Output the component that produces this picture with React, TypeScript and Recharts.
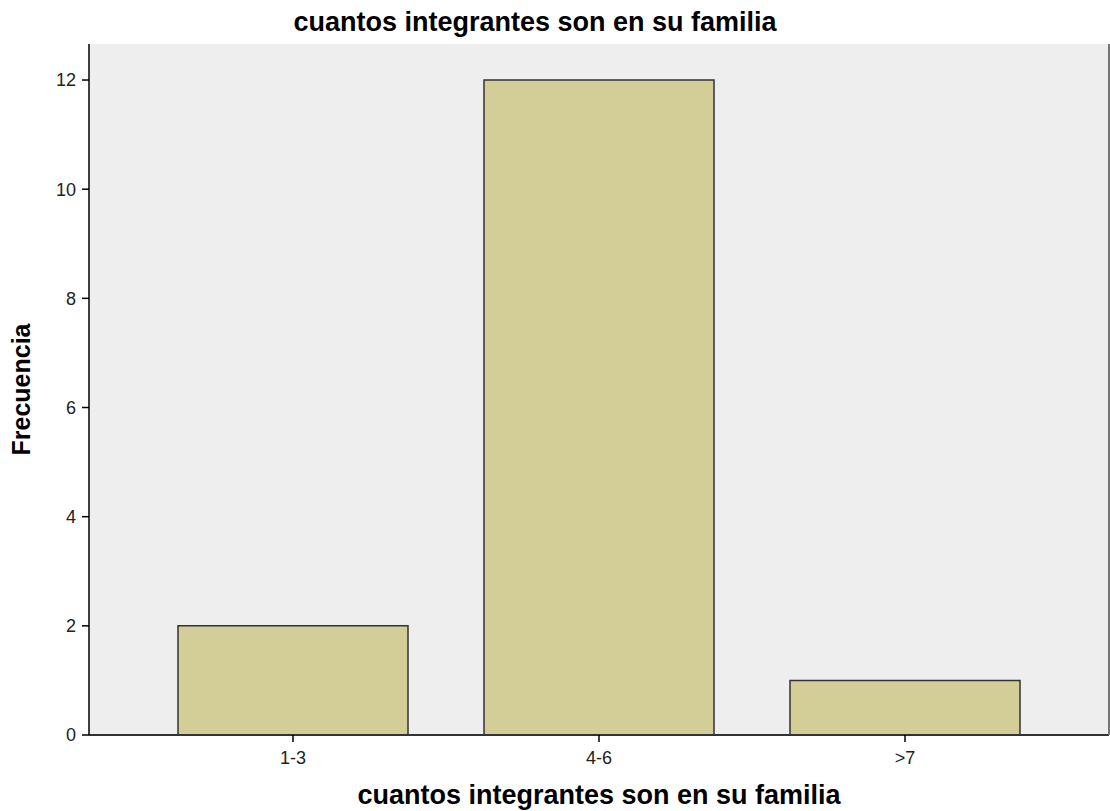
import React from 'react';
import { BarChart, Bar, XAxis, YAxis, CartesianGrid } from 'recharts';

const categories = ['1-3', '4-6', '>7'];
const frequencies = [2, 12, 1];
const yTicks = [0, 2, 4, 6, 8, 10, 12];

const TITLE = 'cuantos integrantes son en su familia';
const FONT = '"Liberation Sans", Arial, sans-serif';

const data = categories.map((cat, i) => ({ cat, freq: frequencies[i] }));

export default function App() {
  return (
    <div
      style={{
        position: 'absolute',
        left: 0,
        top: 0,
        width: 1110,
        height: 811,
        background: '#fff',
        fontFamily: FONT
      }}
    >
      {/* title sits a bit left of the plot centre, as in the original */}
      <div
        style={{
          position: 'absolute',
          left: 0,
          top: 6,
          width: 1070,
          textAlign: 'center',
          fontWeight: 'bold',
          fontSize: 27,
          lineHeight: '32px',
          color: '#000'
        }}
      >
        {TITLE}
      </div>
      <BarChart
        width={1110}
        height={811}
        data={data}
        margin={{ top: 44, right: 0, left: 0, bottom: 0 }}
        style={{ fontFamily: FONT }}
      >
        <CartesianGrid fill="#eeeeee" horizontal={false} vertical={false} />
        <XAxis
          dataKey="cat"
          height={76}
          padding={{ left: 51, right: 51 }}
          tickSize={7}
          tickMargin={9}
          axisLine={{ stroke: '#333', strokeWidth: 2 }}
          tickLine={{ stroke: '#000', strokeWidth: 1.5 }}
          tick={{ fill: '#222', fontSize: 18 }}
          label={{
            value: TITLE,
            position: 'insideBottom',
            offset: 7,
            fill: '#000',
            fontSize: 27,
            fontWeight: 'bold'
          }}
        />
        <XAxis
          xAxisId="top"
          dataKey="cat"
          orientation="top"
          height={0}
          padding={{ left: 51, right: 51 }}
          tick={false}
          tickLine={false}
          axisLine={{ stroke: '#747474', strokeWidth: 3 }}
        />
        <YAxis
          width={89}
          domain={[0, 12.66]}
          ticks={yTicks}
          allowDataOverflow
          tickSize={7}
          tickMargin={6}
          axisLine={{ stroke: '#000', strokeWidth: 1.5 }}
          tickLine={{ stroke: '#000', strokeWidth: 1.5 }}
          tick={{ fill: '#222', fontSize: 18 }}
          label={{
            value: 'Frecuencia',
            angle: -90,
            position: 'insideLeft',
            offset: 21,
            fill: '#000',
            fontSize: 25,
            fontWeight: 'bold',
            style: { textAnchor: 'middle' }
          }}
        />
        <YAxis
          yAxisId="right"
          orientation="right"
          width={1}
          domain={[0, 12.66]}
          tick={false}
          tickLine={false}
          axisLine={{ stroke: '#747474', strokeWidth: 2 }}
        />
        <Bar
          dataKey="freq"
          fill="#d3ce97"
          stroke="#333"
          strokeWidth={1.5}
          barSize={230}
          isAnimationActive={false}
        />
      </BarChart>
    </div>
  );
}
